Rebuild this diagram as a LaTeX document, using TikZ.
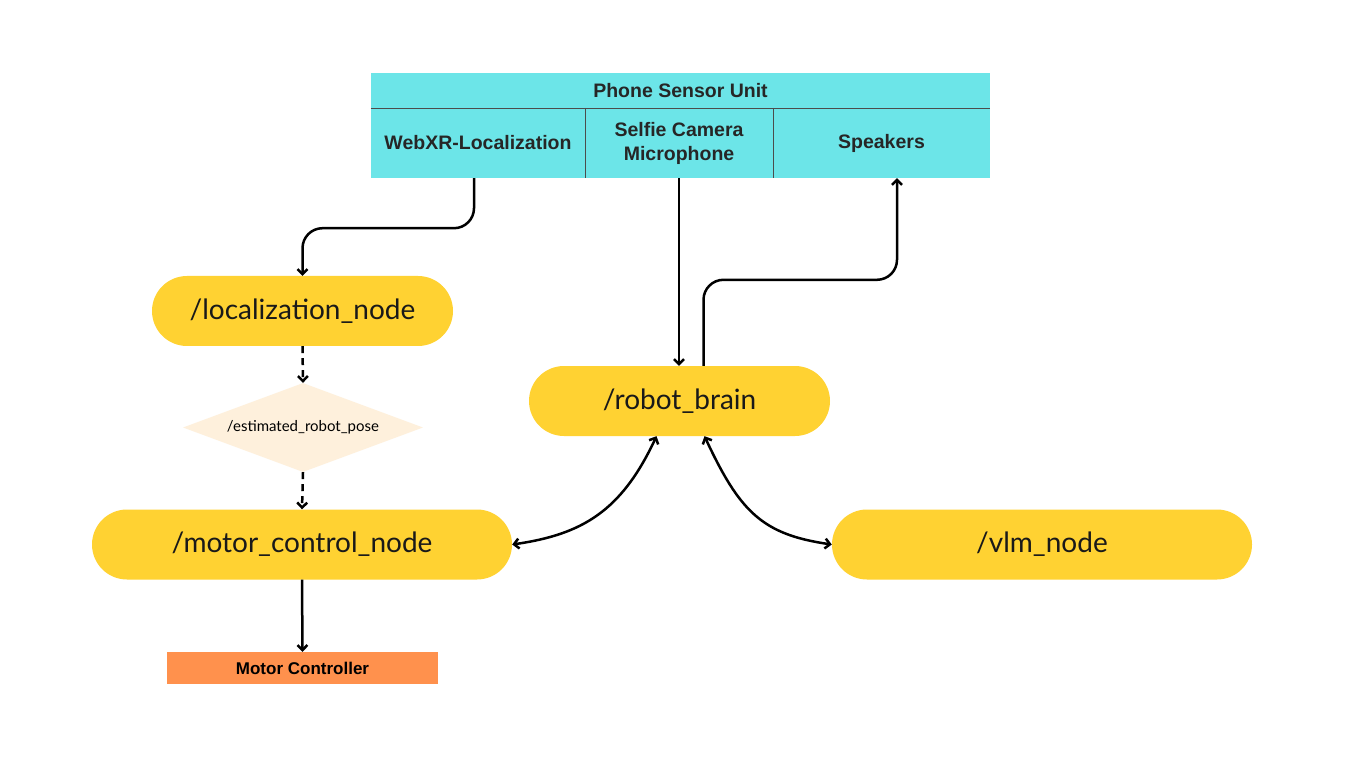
\documentclass[tikz,border=0pt]{standalone}
\usepackage{fontspec}
\setmainfont{Lato}
\newfontfamily\boxfont{Liberation Sans}
\usetikzlibrary{arrows.meta,shapes.geometric}
\definecolor{rosyellow}{HTML}{FFD232}
\definecolor{sensorcyan}{HTML}{6CE5E8}
\definecolor{posecream}{HTML}{FEF0DC}
\definecolor{motororange}{HTML}{FF914D}
\tikzset{
  rosnode/.style={rectangle, fill=rosyellow, rounded corners=35pt, minimum height=70pt,
    inner sep=0pt, font=\fontsize{28}{32}\selectfont, text=black!90},
  cell/.style={rectangle, fill=sensorcyan, inner sep=0pt, minimum height=70pt,
    font=\boxfont\bfseries\fontsize{19.5}{24}\selectfont, align=center, text=black!85},
  flow/.style={line width=2.5pt, -{Straight Barb[length=5pt,width=10pt]}},
  twoway/.style={line width=2.5pt, {Straight Barb[length=5pt,width=10pt]}-{Straight Barb[length=5pt,width=10pt]}},
  divider/.style={line width=1pt, black!70}
}
\begin{document}
\begin{tikzpicture}[x=1pt,y=-1pt]
\useasboundingbox[fill=white] (0,0) rectangle (1347,759);
% phone sensor unit
\node[cell, minimum width=619pt, minimum height=35pt] (unit) at (680.5,90.5) {Phone Sensor Unit};
\node[cell, minimum width=214pt] (webxr) at (478,143) {WebXR-Localization};
\node[cell, minimum width=188pt] (selfie) at (679,143) {Selfie Camera\\Microphone};
\node[cell, minimum width=217pt] (speakers) at (881.5,143) {Speakers};
\draw[divider] (unit.south west) -- (unit.south east);
\draw[divider] (webxr.north east) -- (webxr.south east);
\draw[divider] (selfie.north east) -- (selfie.south east);
% ros nodes
\node[rosnode, minimum width=301pt] (loc) at (302.5,311) {/localization\_node};
\node[diamond, aspect=2.7, fill=posecream, minimum width=240pt, minimum height=89pt, inner sep=0pt,
  font=\fontsize{15}{17}\selectfont] (pose) at (303,427.5) {/estimated\_robot\_pose};
\node[rosnode, minimum width=420pt] (motor) at (302,544.5) {/motor\_control\_node};
\node[rosnode, minimum width=301pt] (brain) at (679.5,401) {/robot\_brain};
\node[rosnode, minimum width=420pt] (vlm) at (1042,544.5) {/vlm\_node};
\node[rectangle, fill=motororange, minimum width=271pt, minimum height=32pt, inner sep=0pt,
  font=\boxfont\bfseries\fontsize{17}{19}\selectfont] (ctrl) at (302.5,668) {Motor Controller};
% connectors
\draw[flow, rounded corners=20pt] ([xshift=-4pt]webxr.south) -- ++(0,50) -| (loc.north);
\draw[flow] (selfie.south) -- (selfie.south |- brain.north);
\draw[flow, rounded corners=20pt] ([xshift=24pt]brain.north) -- ++(0,-86) -| ([xshift=15.5pt]speakers.south);
\draw[flow, dash pattern=on 7pt off 5pt] (loc.south) -- (pose.north);
\draw[flow, dash pattern=on 7pt off 5pt] (pose.south) -- (motor.north);
\draw[twoway] ([xshift=-23pt]brain.south) .. controls +(-35,75) and +(70,-10) .. (motor.east);
\draw[twoway] ([xshift=25pt]brain.south) .. controls +(35,75) and +(-70,-10) .. (vlm.west);
\draw[flow] (motor.south) -- (ctrl.north);
\end{tikzpicture}
\end{document}
